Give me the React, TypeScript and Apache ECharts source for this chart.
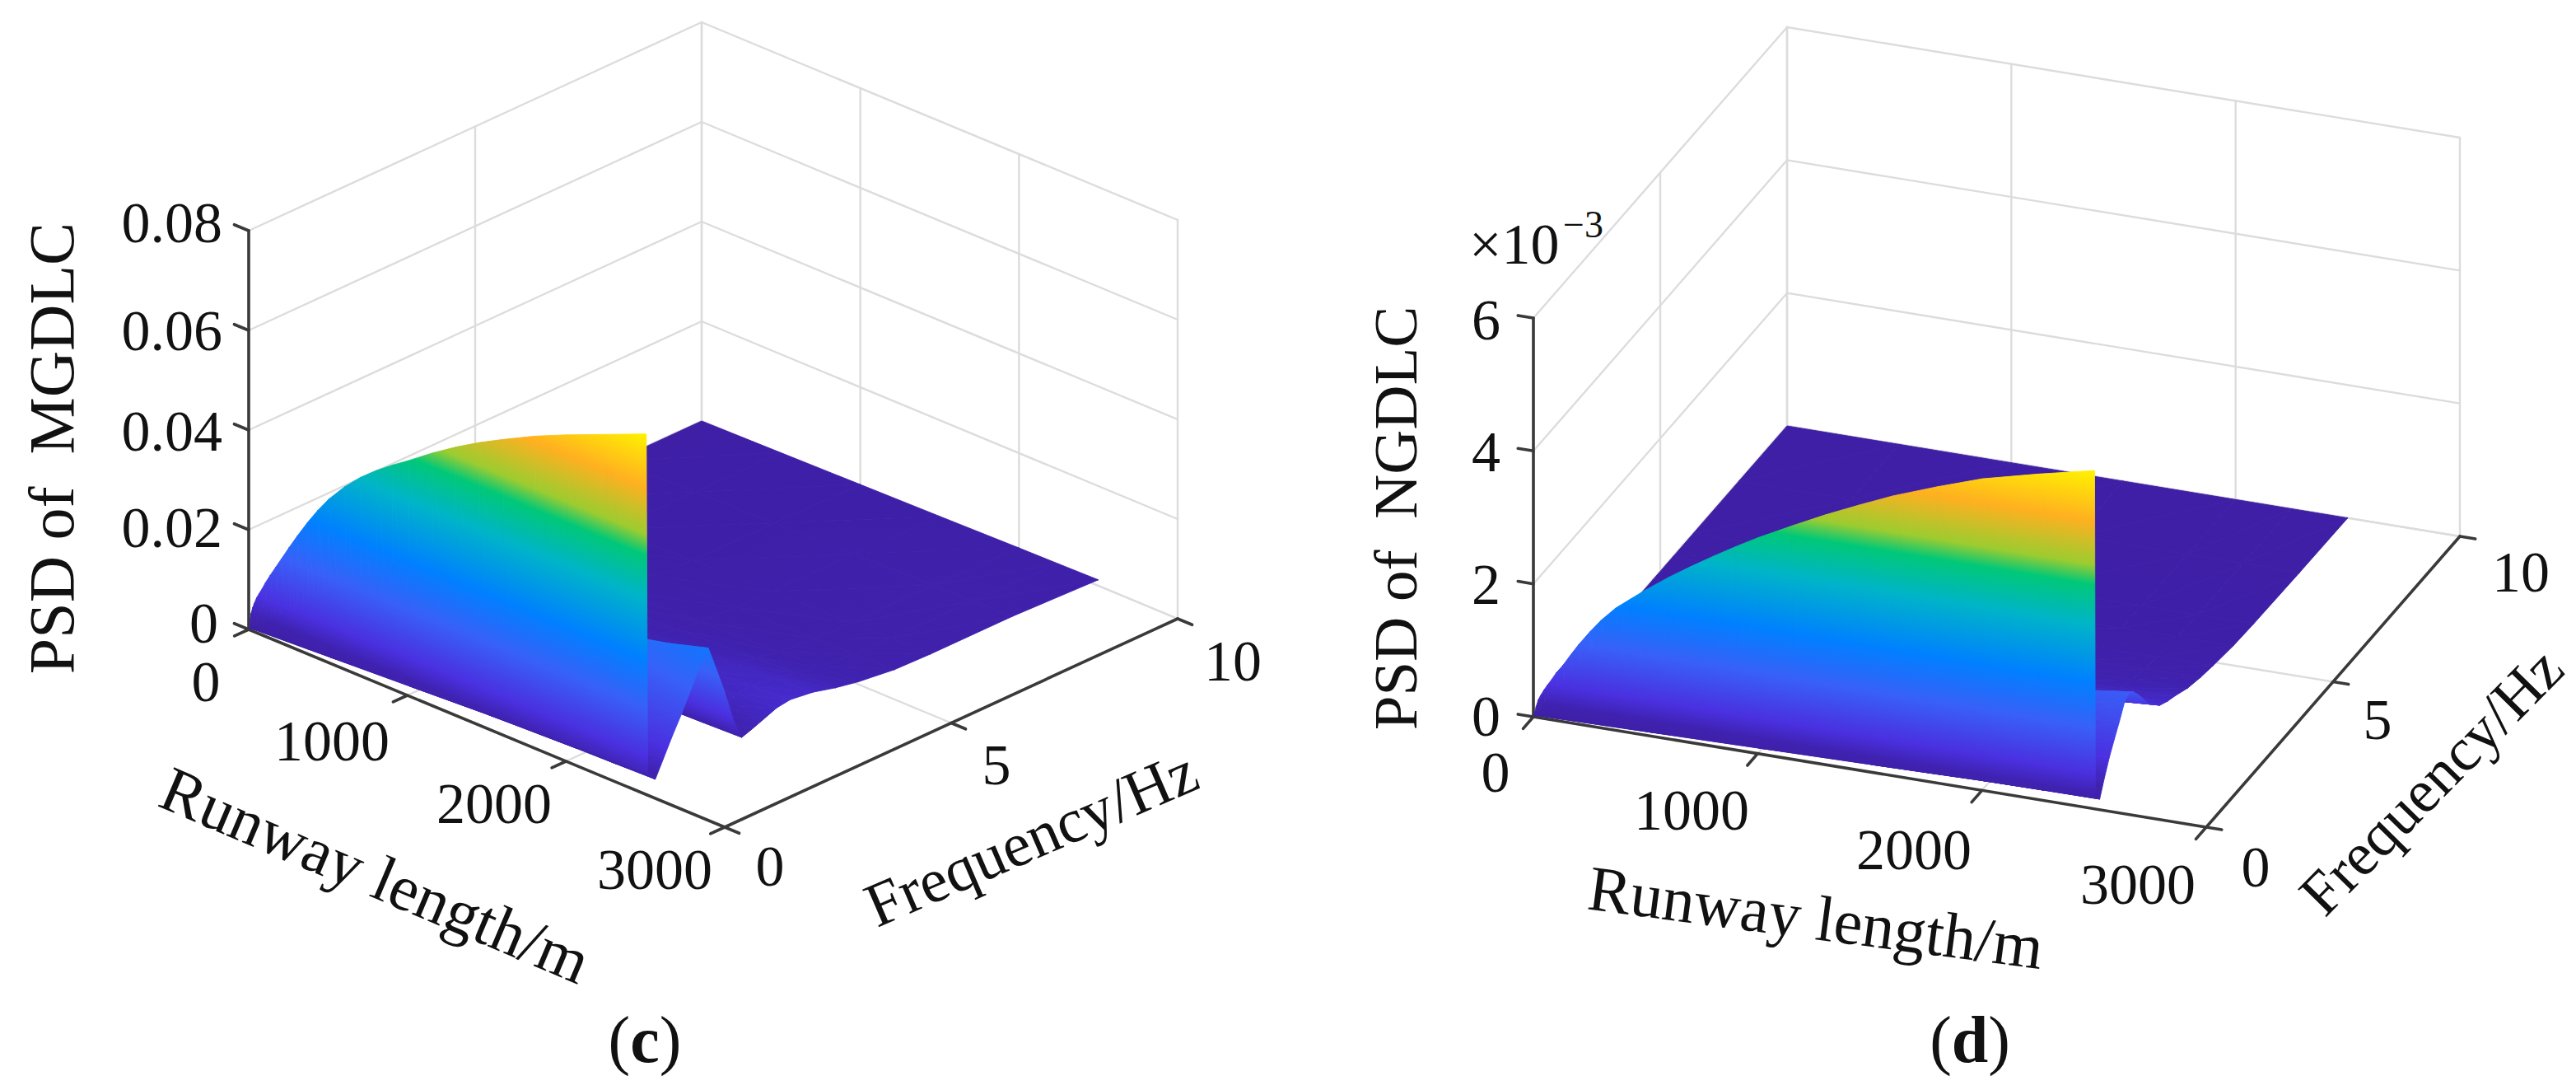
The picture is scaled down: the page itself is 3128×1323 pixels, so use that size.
import React, { useEffect, useRef } from "react";
import * as echarts from "echarts";

// ---------- data ----------
// Steep face at the lowest frequencies, read along its top edge
const wallRunway = [0, 5, 10, 20, 30, 45, 60, 80, 100, 130, 165, 200, 250, 300, 365, 430, 500, 600, 700, 800, 900, 1000, 1150, 1300, 1450, 1600, 1800, 2000, 2250, 2500];
const wallFreq = [0.02, 0.05];
const mgdlcRidge = [0, .0022, .0033, .0046, .0056, .0069, .0079, .0092, .0106, .0125, .0146, .0167, .0197, .0226, .0262, .0295, .0327, .0365, .0397, .0424, .0448, .047, .0505, .0537, .0566, .0592, .0625, .0654, .0688, .0722];
const mgdlcFoot = [0, .00001, .00002, .00003, .00005, .00007, .0001, .00013, .00016, .00021, .00027, .00033, .00041, .00049, .0006, .00071, .00082, .00098, .00115, .00131, .00148, .00164, .00189, .00213, .00238, .00262, .00295, .00336, .00369, .0041];
const ngdlcRidge = [0, .08, .15, .26, .33, .42, .5, .6, .71, .84, 1.02, 1.19, 1.41, 1.61, 1.83, 2.0, 2.18, 2.42, 2.64, 2.85, 3.05, 3.24, 3.5, 3.75, 3.98, 4.2, 4.45, 4.68, 4.89, 5.08];
const ngdlcFoot = [0, .0003, .0006, .0012, .0018, .0027, .0036, .0048, .006, .0078, .0099, .012, .015, .018, .0219, .0258, .03, .036, .042, .048, .054, .06, .069, .078, .087, .096, .108, .123, .135, .15];

// The rest of the surface, from 0.05 Hz up to 10 Hz
const sheetRunway = [0, 500, 1000, 1500, 2000, 2250, 2500];
const sheetFreq = [0.05, 0.22, 0.4, 0.6, 0.8, 1, 1.2, 1.39, 1.55, 1.75, 1.95, 2.13, 2.35, 2.6, 2.9, 3.2, 3.7, 4.2, 4.7, 5.5, 6.3, 8.1, 10];
const mgdlcSheet = [
  [0, .00082, .00164, .00246, .00336, .00369, .0041],
  [0, .00042, .00084, .00126, .00172, .00189, .0021],
  [0, .0011, .0022, .0033, .00451, .00495, .0055],
  [0, .00186, .00372, .00558, .00763, .00837, .0093],
  [0, .00256, .00512, .00768, .0105, .01152, .0128],
  [0, .00334, .00668, .01002, .01369, .01503, .0167],
  [0, .00416, .00832, .01248, .01706, .01872, .0208],
  [0, .0047, .0094, .0141, .01927, .02115, .0235],
  [0, .0038, .0076, .0114, .01558, .0171, .019],
  [0, .00264, .00528, .00792, .01082, .01188, .0132],
  [0, .0013, .0026, .0039, .00533, .00585, .0065],
  [0, .0005, .001, .0015, .00205, .00225, .0025],
  [0, .00064, .00128, .00192, .00262, .00288, .0032],
  [0, .00082, .00164, .00246, .00336, .00369, .0041],
  [0, .00104, .00208, .00312, .00426, .00468, .0052],
  [0, .00112, .00224, .00336, .00459, .00504, .0056],
  [0, .001, .002, .003, .0041, .0045, .005],
  [0, .00076, .00152, .00228, .00312, .00342, .0038],
  [0, .00058, .00116, .00174, .00238, .00261, .0029],
  [0, .0004, .0008, .0012, .00164, .0018, .002],
  [0, .00036, .00072, .00108, .00148, .00162, .0018],
  [0, .00036, .00072, .00108, .00148, .00162, .0018],
  [0, .00024, .00048, .00072, .00098, .00108, .0012],
];
// NGDLC, in units of 10^-3
const ngdlcSheet = [
  [0, .03, .06, .09, .123, .135, .15],
  [0, .01, .02, .03, .041, .045, .05],
  [0, .056, .112, .168, .23, .252, .28],
  [0, .102, .204, .306, .418, .459, .51],
  [0, .14, .28, .42, .574, .63, .7],
  [0, .176, .352, .528, .722, .792, .88],
  [0, .216, .432, .648, .886, .972, 1.08],
  [0, .23, .46, .69, .943, 1.035, 1.15],
  [0, .216, .432, .648, .886, .972, 1.08],
  [0, .19, .38, .57, .779, .855, .95],
  [0, .16, .32, .48, .656, .72, .8],
  [0, .13, .26, .39, .533, .585, .65],
  [0, .108, .216, .324, .443, .486, .54],
  [0, .084, .168, .252, .344, .378, .42],
  [0, .07, .14, .21, .287, .315, .35],
  [0, .06, .12, .18, .246, .27, .3],
  [0, .04, .08, .12, .164, .18, .2],
  [0, .028, .056, .084, .115, .126, .14],
  [0, .02, .04, .06, .082, .09, .1],
  [0, .01, .02, .03, .041, .045, .05],
  [0, .006, .012, .018, .025, .027, .03],
  [0, .002, .004, .006, .008, .009, .01],
  [0, 0, 0, 0, 0, 0, 0],
];

const runwayTicks = [0, 1000, 2000, 3000];
const runwayTickLabels = ["0", "1000", "2000", "3000"];
const freqTicks = [0, 5, 10];
const freqTickLabels = ["0", "5", "10"];
const mgdlcTicks = [0, 0.02, 0.04, 0.06, 0.08];
const mgdlcTickLabels = ["0", "0.02", "0.04", "0.06", "0.08"];
const ngdlcTicks = [0, 2, 4, 6];
const ngdlcTickLabels = ["0", "2", "4", "6"];

// colormap knots: share of the surface's peak, colour
const colormapStops = [0, 0.04, 0.1, 0.235, 0.37, 0.54, 0.66, 0.72, 0.85, 1];
const colormapColors = ["#3e1fa6", "#3f22b0", "#4a30e0", "#3860f8", "#0080ff", "#00b4c8", "#00c878", "#9ccc30", "#ffb020", "#fff200"];

// ---------- layout ----------
const W = 3128;
const H = 1323;
const FONT = '"Liberation Serif", "Times New Roman", serif';
const GRID = "#dcdcdc";
const AXIS = "#3a3a3a";
const R_MAX = 3000;
const F_MAX = 10;

type Panel = any;
const panelC: Panel = {
  o: [302, 764], rv: [578, 240], fv: [550, -253], zh: 484, zMax: 0.08, peak: 0.0722,
  zTicks: mgdlcTicks, zLabels: mgdlcTickLabels, ridge: mgdlcRidge, foot: mgdlcFoot, sheet: mgdlcSheet,
  zLabelPos: [[265, 756], [270, 640], [270, 523], [270, 401], [270, 270]],
  rLabelPos: [[250, 827], [403, 899], [600, 975], [795, 1055]],
  fLabelPos: [[935, 1051], [1210, 928], [1497, 802]],
  zTitle: { text: "PSD of  MGDLC", x: 62, y: 544 },
  rTitle: { text: "Runway length/m", x: 456, y: 1062, rot: -23, size: 78 },
  fTitle: { text: "Frequency/Hz", x: 1252, y: 1017, rot: 23.4, size: 76 },
  tag: { letter: "c", x: 783, y: 1262 },
};
const panelD: Panel = {
  o: [1862, 870], rv: [817, 134], fv: [308, -353], zh: 484, zMax: 6, peak: 5.08,
  zTicks: ngdlcTicks, zLabels: ngdlcTickLabels, ridge: ngdlcRidge, foot: ngdlcFoot, sheet: ngdlcSheet,
  zLabelPos: [[1822, 869], [1822, 709], [1822, 548], [1822, 388]],
  rLabelPos: [[1816, 937], [2054, 983], [2324, 1031], [2596, 1073]],
  fLabelPos: [[2739, 1052], [2887, 873], [3061, 694]],
  zTitle: { text: "PSD of  NGDLC", x: 1694, y: 629, size: 75 },
  rTitle: { text: "Runway length/m", x: 2205, y: 1114, rot: -7.5, size: 78 },
  fTitle: { text: "Frequency/Hz", x: 2952, y: 948, rot: 45.5, size: 74 },
  tag: { letter: "d", x: 2392, y: 1262 },
  exponent: { base: "×10", power: "−3", x: 1784, y: 296, px: 1898, py: 272 },
};

// 3D to the flat plotting plane of the hidden cartesian axes
function project(p: Panel, r: number, f: number, z: number): number[] {
  const a = r / R_MAX, b = f / F_MAX, c = z / p.zMax;
  return [p.o[0] + a * p.rv[0] + b * p.fv[0], p.o[1] + a * p.rv[1] + b * p.fv[1] - c * p.zh];
}

function colorAt(t: number): string {
  const v = Math.max(0, Math.min(1, t));
  let i = 0;
  while (i < colormapStops.length - 2 && v > colormapStops[i + 1]) i++;
  const k = (v - colormapStops[i]) / (colormapStops[i + 1] - colormapStops[i]);
  const hex = (s: string, n: number) => parseInt(s.slice(1 + n * 2, 3 + n * 2), 16);
  const ch = [0, 1, 2].map((n) => Math.round(hex(colormapColors[i], n) * (1 - k) + hex(colormapColors[i + 1], n) * k));
  return `rgb(${ch[0]},${ch[1]},${ch[2]})`;
}

function triangleFill(pts: number[][], zs: number[], peak: number) {
  const [a, b, c] = pts;
  const det = (b[0] - a[0]) * (c[1] - a[1]) - (c[0] - a[0]) * (b[1] - a[1]);
  const zMin = Math.min(...zs), zMax = Math.max(...zs);
  if (Math.abs(det) < 1e-6 || zMax - zMin < peak * 1e-4) return colorAt((zMin + zMax) / 2 / peak);
  const gx = ((zs[1] - zs[0]) * (c[1] - a[1]) - (zs[2] - zs[0]) * (b[1] - a[1])) / det;
  const gy = ((zs[2] - zs[0]) * (b[0] - a[0]) - (zs[1] - zs[0]) * (c[0] - a[0])) / det;
  const g2 = gx * gx + gy * gy;
  const start = pts[zs.indexOf(zMin)];
  const span = zMax - zMin;
  const end = [start[0] + (gx * span) / g2, start[1] + (gy * span) / g2];
  const t0 = zMin / peak, t1 = zMax / peak;
  const stops: { offset: number; color: string }[] = [{ offset: 0, color: colorAt(t0) }];
  colormapStops.forEach((s) => {
    if (s > t0 && s < t1) stops.push({ offset: (s - t0) / (t1 - t0), color: colorAt(s) });
  });
  stops.push({ offset: 1, color: colorAt(t1) });
  return new echarts.graphic.LinearGradient(start[0], start[1], end[0], end[1], stops, true);
}

// triangles ordered from the far corner to the viewer
function meshTriangles(rNodes: number[], fNodes: number[], rows: number[][]): number[][] {
  const out: number[][] = [];
  for (let j = fNodes.length - 2; j >= 0; j--) {
    for (let i = 0; i < rNodes.length - 1; i++) {
      const r0 = rNodes[i], r1 = rNodes[i + 1], f0 = fNodes[j], f1 = fNodes[j + 1];
      const z00 = rows[j][i], z10 = rows[j][i + 1], z01 = rows[j + 1][i], z11 = rows[j + 1][i + 1];
      out.push([r0, f1, z01, r1, f1, z11, r0, f0, z00]);
      out.push([r1, f1, z11, r1, f0, z10, r0, f0, z00]);
    }
  }
  return out;
}

function surfaceSeries(p: Panel) {
  const triangles = [
    ...meshTriangles(sheetRunway, sheetFreq, p.sheet),
    ...meshTriangles(wallRunway, wallFreq, [p.ridge, p.foot]),
  ];
  return {
    type: "custom",
    coordinateSystem: "cartesian2d",
    silent: true,
    clip: false,
    encode: { x: 0, y: 1 },
    data: triangles,
    renderItem: (_: any, api: any) => {
      const zs: number[] = [];
      const pts: number[][] = [];
      for (let k = 0; k < 3; k++) {
        const z = api.value(k * 3 + 2);
        zs.push(z);
        pts.push(api.coord(project(p, api.value(k * 3), api.value(k * 3 + 1), z)));
      }
      const fill = triangleFill(pts, zs, p.peak);
      return { type: "polygon", shape: { points: pts }, style: { fill, stroke: fill, lineWidth: 0.9 } };
    },
  };
}

function frameSeries(p: Panel) {
  return {
    type: "custom",
    coordinateSystem: "cartesian2d",
    silent: true,
    clip: false,
    encode: { x: 0, y: 1 },
    data: [[0, 0]],
    renderItem: (_: any, api: any) => {
      const pt = (r: number, f: number, z: number) => api.coord(project(p, r, f, z));
      const zTop = p.zTicks[p.zTicks.length - 1];
      const kids: any[] = [];
      const line = (a: number[], b: number[], stroke: string, lineWidth: number) =>
        kids.push({ type: "line", shape: { x1: a[0], y1: a[1], x2: b[0], y2: b[1] }, style: { stroke, lineWidth, lineCap: "round" } });
      const text = (s: string, x: number, y: number, size: number, align = "center", rot = 0) =>
        kids.push({
          type: "text", x, y, rotation: (rot * Math.PI) / 180,
          style: { text: s, font: `${size}px ${FONT}`, fill: "#111", textAlign: align, textVerticalAlign: "middle" },
        });

      // gridlines on the walls and floor
      p.zTicks.forEach((z: number) => {
        line(pt(0, 0, z), pt(0, F_MAX, z), GRID, 2.4);
        line(pt(0, F_MAX, z), pt(R_MAX, F_MAX, z), GRID, 2.4);
      });
      runwayTicks.forEach((r) => {
        line(pt(r, F_MAX, 0), pt(r, F_MAX, zTop), GRID, 2.4);
        line(pt(r, 0, 0), pt(r, F_MAX, 0), GRID, 2.4);
      });
      freqTicks.forEach((f) => {
        line(pt(0, f, 0), pt(0, f, zTop), GRID, 2.4);
        line(pt(0, f, 0), pt(R_MAX, f, 0), GRID, 2.4);
      });

      // axes
      line(pt(0, 0, 0), pt(0, 0, zTop), AXIS, 3.6);
      line(pt(0, 0, 0), pt(R_MAX, 0, 0), AXIS, 3.6);
      line(pt(R_MAX, 0, 0), pt(R_MAX, F_MAX, 0), AXIS, 3.6);

      const unit = (v: number[]) => { const n = Math.hypot(v[0], v[1]); return [v[0] / n, v[1] / n]; };
      const ur = unit(p.rv), uf = unit(p.fv);
      const TICK = 19;
      p.zTicks.forEach((z: number) => {
        const a = pt(0, 0, z);
        line(a, [a[0] - ur[0] * TICK, a[1] - ur[1] * TICK], AXIS, 3.6);
      });
      runwayTicks.forEach((r) => {
        const a = pt(r, 0, 0);
        line(a, [a[0] - uf[0] * TICK, a[1] - uf[1] * TICK], AXIS, 3.6);
      });
      freqTicks.forEach((f) => {
        const a = pt(R_MAX, f, 0);
        line(a, [a[0] + ur[0] * TICK, a[1] + ur[1] * TICK], AXIS, 3.6);
      });

      // labels
      p.zLabels.forEach((s: string, i: number) => text(s, p.zLabelPos[i][0], p.zLabelPos[i][1], 70, "right"));
      runwayTickLabels.forEach((s, i) => text(s, p.rLabelPos[i][0], p.rLabelPos[i][1], 70));
      freqTickLabels.forEach((s, i) => text(s, p.fLabelPos[i][0], p.fLabelPos[i][1], 70));
      text(p.zTitle.text, p.zTitle.x, p.zTitle.y, p.zTitle.size || 78, "center", 90);
      text(p.rTitle.text, p.rTitle.x, p.rTitle.y, p.rTitle.size, "center", p.rTitle.rot);
      text(p.fTitle.text, p.fTitle.x, p.fTitle.y, p.fTitle.size, "center", p.fTitle.rot);
      kids.push({
        type: "text", x: p.tag.x, y: p.tag.y,
        style: {
          text: `({b|${p.tag.letter}})`, font: `80px ${FONT}`, fill: "#111", textAlign: "center", textVerticalAlign: "middle",
          rich: { b: { font: `bold 80px ${FONT}`, fill: "#111" } },
        },
      });
      if (p.exponent) {
        text(p.exponent.base, p.exponent.x, p.exponent.y, 70, "left");
        text(p.exponent.power, p.exponent.px, p.exponent.py, 46, "left");
      }
      return { type: "group", children: kids };
    },
  };
}

export default function App() {
  const ref = useRef<HTMLDivElement>(null);
  useEffect(() => {
    document.body.style.margin = "0";
    const chart = echarts.init(ref.current!, undefined, { renderer: "svg" });
    chart.setOption({
      animation: false,
      backgroundColor: "#ffffff",
      grid: { left: 0, top: 0, right: 0, bottom: 0 },
      xAxis: { type: "value", min: 0, max: W, show: false },
      yAxis: { type: "value", min: 0, max: H, inverse: true, show: false },
      series: [frameSeries(panelC), surfaceSeries(panelC), frameSeries(panelD), surfaceSeries(panelD)],
    });
    return () => chart.dispose();
  }, []);
  return <div ref={ref} style={{ width: W, height: H }} />;
}
